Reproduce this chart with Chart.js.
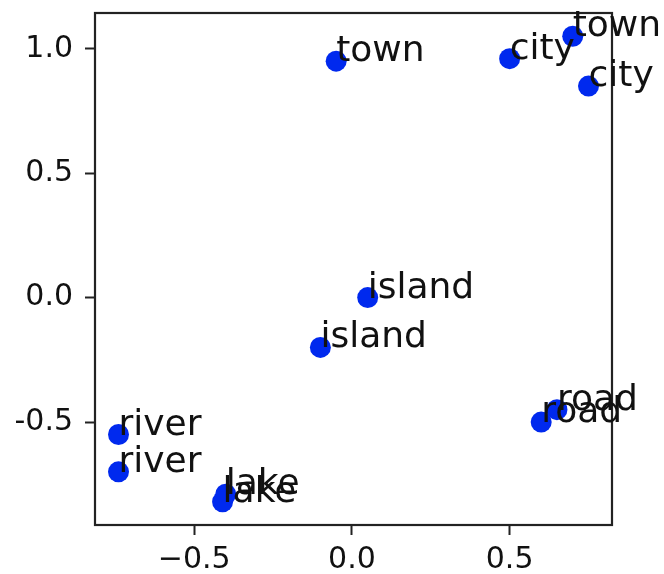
<!DOCTYPE html>
<html>
<head>
<meta charset="utf-8">
<script src="https://cdn.jsdelivr.net/npm/chart.js@4"></script>
<style>
    body { margin: 0; background: #fff; }
    canvas { display: block; }
</style>
</head>
<body>
<canvas id="wordChart" width="664" height="574"></canvas>
<script>
const words = ["town", "city", "town", "city", "island", "island", "road", "road", "river", "river", "lake", "lake"];
const xValues = [-0.05, 0.50, 0.70, 0.75, 0.05, -0.10, 0.65, 0.60, -0.74, -0.74, -0.40, -0.41];
const yValues = [0.95, 0.96, 1.05, 0.85, 0.00, -0.20, -0.45, -0.50, -0.55, -0.70, -0.79, -0.82];
const xTicks = [-0.5, 0.0, 0.5];
const yTicks = [-0.5, 0.0, 0.5, 1.0];

const points = xValues.map((x, i) => ({ x: x, y: yValues[i] }));

// box around the plot area, like matplotlib spines
const frame = {
    id: "frame",
    afterDraw(chart) {
        const { ctx, chartArea } = chart;
        ctx.save();
        ctx.strokeStyle = "#222";
        ctx.lineWidth = 2.2;
        ctx.strokeRect(chartArea.left, chartArea.top, chartArea.right - chartArea.left, chartArea.bottom - chartArea.top);
        ctx.restore();
    }
};

// word labels next to each point
const wordLabels = {
    id: "wordLabels",
    afterDraw(chart) {
        const ctx = chart.ctx;
        const xs = chart.scales.x;
        const ys = chart.scales.y;
        ctx.save();
        ctx.font = "36px 'DejaVu Sans'";
        ctx.fillStyle = "#111";
        ctx.textAlign = "left";
        ctx.textBaseline = "alphabetic";
        words.forEach((w, i) => {
            ctx.fillText(w, xs.getPixelForValue(xValues[i]), ys.getPixelForValue(yValues[i]));
        });
        ctx.restore();
    }
};

new Chart(document.getElementById("wordChart"), {
    type: "scatter",
    data: {
        datasets: [{
            data: points,
            backgroundColor: "#0029ee",
            borderWidth: 0,
            pointRadius: 10.5,
            pointHoverRadius: 10.5
        }]
    },
    options: {
        responsive: false,
        devicePixelRatio: 1,
        animation: false,
        layout: { padding: { left: 0, top: 13, right: 52, bottom: 0 } },
        plugins: {
            legend: { display: false },
            tooltip: { enabled: false }
        },
        scales: {
            x: {
                type: "linear",
                min: -0.8145,
                max: 0.8245,
                afterBuildTicks: (axis) => { axis.ticks = xTicks.map(v => ({ value: v })); },
                afterFit: (axis) => { axis.height = 49; axis.paddingLeft = 0; axis.paddingRight = 0; },
                grid: { drawOnChartArea: false, tickLength: 10, tickColor: "#222", tickWidth: 2 },
                border: { display: false },
                ticks: {
                    color: "#111",
                    font: { family: "DejaVu Sans", size: 30 },
                    padding: 7,
                    maxRotation: 0,
                    callback: (v) => (v < 0 ? "\u2212" : "") + Math.abs(v).toFixed(1)
                }
            },
            y: {
                type: "linear",
                min: -0.9135,
                max: 1.1435,
                afterBuildTicks: (axis) => { axis.ticks = yTicks.map(v => ({ value: v })); },
                afterFit: (axis) => { axis.width = 95; axis.paddingTop = 0; axis.paddingBottom = 0; },
                grid: { drawOnChartArea: false, tickLength: 10, tickColor: "#222", tickWidth: 2 },
                border: { display: false },
                ticks: {
                    color: "#111",
                    font: { family: "DejaVu Sans", size: 30 },
                    padding: 12,
                    callback: (v) => v.toFixed(1)
                }
            }
        }
    },
    plugins: [frame, wordLabels]
});
</script>
</body>
</html>
